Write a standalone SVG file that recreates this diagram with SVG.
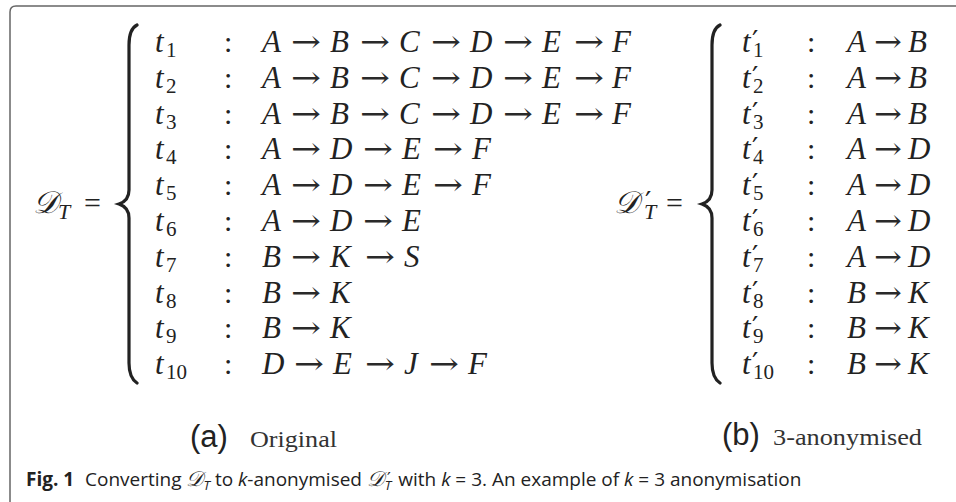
<svg xmlns="http://www.w3.org/2000/svg" width="956" height="502" viewBox="0 0 956 502">
<style>
.m{font-family:"Liberation Serif","Times New Roman",serif;font-style:italic;font-size:31px;fill:#222}
.r{font-family:"Liberation Serif","Times New Roman",serif;font-style:normal;font-size:30px;fill:#222}
.sub{font-family:"Liberation Serif","Times New Roman",serif;font-style:normal;font-size:21px}
.subi{font-family:"Liberation Serif","Times New Roman",serif;font-style:italic;font-size:22px}
.pr{font-family:"DejaVu Serif",serif;font-style:normal;font-size:28px}
.ar{font-family:"DejaVu Serif",serif;font-style:normal;font-size:30px;fill:#2a2a2a}
.br{fill:none;stroke:#222;stroke-width:3.2;stroke-linecap:round}
.lab{font-family:"Liberation Sans",Arial,sans-serif;font-size:31px;fill:#222}
.labs{font-family:"Liberation Serif","Times New Roman",serif;font-size:24px;fill:#333}
.cap{font-family:"Open Sans","Noto Sans",sans-serif;font-size:19px;fill:#222}
</style>
<defs>
<text id="ar" class="ar" textLength="30" lengthAdjust="spacingAndGlyphs">→</text>
<text id="ar2" class="ar" textLength="28" lengthAdjust="spacingAndGlyphs">→</text>
</defs>
<path d="M10,502 L10,12 Q10,6 16,6 L956,6" fill="none" stroke="#666" stroke-width="1.5"/>

<g id="DT">
<text class="m" x="33" y="213">𝒟<tspan class="subi" x="58" dy="6">T</tspan><tspan class="r" x="84" dy="-6">=</tspan></text>
<path class="br" d="M137,25 C131,28 129,35 129,45 L129,190 C129,198 125,202 119,204 C125,206 129,210 129,218 L129,363 C129,373 131,379 137,383"/>
</g>

<g id="left-rows">
<g id="t1"><text class="m" y="52"><tspan x="155">t</tspan><tspan class="sub" x="166" dy="5">1</tspan><tspan class="r" x="224" dy="-5">:</tspan><tspan x="262">A</tspan><tspan x="330">B</tspan><tspan x="399">C</tspan><tspan x="470">D</tspan><tspan x="542">E</tspan><tspan x="612">F</tspan></text>
<use href="#ar" x="291" y="52"/><use href="#ar" x="360" y="52"/><use href="#ar" x="431" y="52"/><use href="#ar" x="503" y="52"/><use href="#ar" x="574" y="52"/></g>
<g id="t2"><text class="m" y="88"><tspan x="155">t</tspan><tspan class="sub" x="166" dy="5">2</tspan><tspan class="r" x="224" dy="-5">:</tspan><tspan x="262">A</tspan><tspan x="330">B</tspan><tspan x="399">C</tspan><tspan x="470">D</tspan><tspan x="542">E</tspan><tspan x="612">F</tspan></text>
<use href="#ar" x="291" y="88"/><use href="#ar" x="360" y="88"/><use href="#ar" x="431" y="88"/><use href="#ar" x="503" y="88"/><use href="#ar" x="574" y="88"/></g>
<g id="t3"><text class="m" y="124"><tspan x="155">t</tspan><tspan class="sub" x="166" dy="5">3</tspan><tspan class="r" x="224" dy="-5">:</tspan><tspan x="262">A</tspan><tspan x="330">B</tspan><tspan x="399">C</tspan><tspan x="470">D</tspan><tspan x="542">E</tspan><tspan x="612">F</tspan></text>
<use href="#ar" x="291" y="124"/><use href="#ar" x="360" y="124"/><use href="#ar" x="431" y="124"/><use href="#ar" x="503" y="124"/><use href="#ar" x="574" y="124"/></g>
<g id="t4"><text class="m" y="159"><tspan x="155">t</tspan><tspan class="sub" x="166" dy="5">4</tspan><tspan class="r" x="224" dy="-5">:</tspan><tspan x="262">A</tspan><tspan x="330">D</tspan><tspan x="402">E</tspan><tspan x="472">F</tspan></text>
<use href="#ar" x="291" y="159"/><use href="#ar" x="363" y="159"/><use href="#ar" x="433" y="159"/></g>
<g id="t5"><text class="m" y="195"><tspan x="155">t</tspan><tspan class="sub" x="166" dy="5">5</tspan><tspan class="r" x="224" dy="-5">:</tspan><tspan x="262">A</tspan><tspan x="330">D</tspan><tspan x="402">E</tspan><tspan x="472">F</tspan></text>
<use href="#ar" x="291" y="195"/><use href="#ar" x="363" y="195"/><use href="#ar" x="433" y="195"/></g>
<g id="t6"><text class="m" y="231"><tspan x="155">t</tspan><tspan class="sub" x="166" dy="5">6</tspan><tspan class="r" x="224" dy="-5">:</tspan><tspan x="262">A</tspan><tspan x="330">D</tspan><tspan x="402">E</tspan></text>
<use href="#ar" x="291" y="231"/><use href="#ar" x="363" y="231"/></g>
<g id="t7"><text class="m" y="267"><tspan x="155">t</tspan><tspan class="sub" x="166" dy="5">7</tspan><tspan class="r" x="224" dy="-5">:</tspan><tspan x="262">B</tspan><tspan x="330">K</tspan><tspan x="404">S</tspan></text>
<use href="#ar" x="291" y="267"/><use href="#ar" x="365" y="267"/></g>
<g id="t8"><text class="m" y="303"><tspan x="155">t</tspan><tspan class="sub" x="166" dy="5">8</tspan><tspan class="r" x="224" dy="-5">:</tspan><tspan x="262">B</tspan><tspan x="330">K</tspan></text>
<use href="#ar" x="291" y="303"/></g>
<g id="t9"><text class="m" y="338"><tspan x="155">t</tspan><tspan class="sub" x="166" dy="5">9</tspan><tspan class="r" x="224" dy="-5">:</tspan><tspan x="262">B</tspan><tspan x="330">K</tspan></text>
<use href="#ar" x="291" y="338"/></g>
<g id="t10"><text class="m" y="374"><tspan x="155">t</tspan><tspan class="sub" x="166" dy="5">10</tspan><tspan class="r" x="224" dy="-5">:</tspan><tspan x="262">D</tspan><tspan x="333">E</tspan><tspan x="404">J</tspan><tspan x="468">F</tspan></text>
<use href="#ar" x="294" y="374"/><use href="#ar" x="365" y="374"/><use href="#ar" x="429" y="374"/></g>
</g>

<g id="DTp">
<text class="m" x="614" y="213">𝒟<tspan class="pr" x="645" dy="-1">′</tspan><tspan class="subi" x="644" dy="7">T</tspan><tspan class="r" x="666" dy="-6">=</tspan></text>
<path class="br" d="M720,25 C714,28 712,35 712,45 L712,190 C712,198 708,202 702,204 C708,206 712,210 712,218 L712,363 C712,373 714,379 720,383"/>
</g>

<g id="right-rows">
<g id="tp1"><text class="m" y="52"><tspan x="742">t</tspan><tspan class="pr" x="752" dy="-1">′</tspan><tspan class="sub" x="753" dy="6">1</tspan><tspan class="r" x="807" dy="-5">:</tspan><tspan x="847">A</tspan><tspan x="908">B</tspan></text><use href="#ar2" x="874" y="52"/></g>
<g id="tp2"><text class="m" y="88"><tspan x="742">t</tspan><tspan class="pr" x="752" dy="-1">′</tspan><tspan class="sub" x="753" dy="6">2</tspan><tspan class="r" x="807" dy="-5">:</tspan><tspan x="847">A</tspan><tspan x="908">B</tspan></text><use href="#ar2" x="874" y="88"/></g>
<g id="tp3"><text class="m" y="124"><tspan x="742">t</tspan><tspan class="pr" x="752" dy="-1">′</tspan><tspan class="sub" x="753" dy="6">3</tspan><tspan class="r" x="807" dy="-5">:</tspan><tspan x="847">A</tspan><tspan x="908">B</tspan></text><use href="#ar2" x="874" y="124"/></g>
<g id="tp4"><text class="m" y="159"><tspan x="742">t</tspan><tspan class="pr" x="752" dy="-1">′</tspan><tspan class="sub" x="753" dy="6">4</tspan><tspan class="r" x="807" dy="-5">:</tspan><tspan x="847">A</tspan><tspan x="908">D</tspan></text><use href="#ar2" x="874" y="159"/></g>
<g id="tp5"><text class="m" y="195"><tspan x="742">t</tspan><tspan class="pr" x="752" dy="-1">′</tspan><tspan class="sub" x="753" dy="6">5</tspan><tspan class="r" x="807" dy="-5">:</tspan><tspan x="847">A</tspan><tspan x="908">D</tspan></text><use href="#ar2" x="874" y="195"/></g>
<g id="tp6"><text class="m" y="231"><tspan x="742">t</tspan><tspan class="pr" x="752" dy="-1">′</tspan><tspan class="sub" x="753" dy="6">6</tspan><tspan class="r" x="807" dy="-5">:</tspan><tspan x="847">A</tspan><tspan x="908">D</tspan></text><use href="#ar2" x="874" y="231"/></g>
<g id="tp7"><text class="m" y="267"><tspan x="742">t</tspan><tspan class="pr" x="752" dy="-1">′</tspan><tspan class="sub" x="753" dy="6">7</tspan><tspan class="r" x="807" dy="-5">:</tspan><tspan x="847">A</tspan><tspan x="908">D</tspan></text><use href="#ar2" x="874" y="267"/></g>
<g id="tp8"><text class="m" y="303"><tspan x="742">t</tspan><tspan class="pr" x="752" dy="-1">′</tspan><tspan class="sub" x="753" dy="6">8</tspan><tspan class="r" x="807" dy="-5">:</tspan><tspan x="847">B</tspan><tspan x="908">K</tspan></text><use href="#ar2" x="874" y="303"/></g>
<g id="tp9"><text class="m" y="338"><tspan x="742">t</tspan><tspan class="pr" x="752" dy="-1">′</tspan><tspan class="sub" x="753" dy="6">9</tspan><tspan class="r" x="807" dy="-5">:</tspan><tspan x="847">B</tspan><tspan x="908">K</tspan></text><use href="#ar2" x="874" y="338"/></g>
<g id="tp10"><text class="m" y="374"><tspan x="742">t</tspan><tspan class="pr" x="752" dy="-1">′</tspan><tspan class="sub" x="753" dy="6">10</tspan><tspan class="r" x="807" dy="-5">:</tspan><tspan x="847">B</tspan><tspan x="908">K</tspan></text><use href="#ar2" x="874" y="374"/></g>
</g>

<g id="labels">
<text class="lab" x="190" y="447">(a)</text><text class="labs" x="250" y="447" textLength="87" lengthAdjust="spacingAndGlyphs">Original</text>
<text class="lab" x="722" y="445">(b)</text><text class="labs" x="773" y="445" textLength="149" lengthAdjust="spacingAndGlyphs">3-anonymised</text>
</g>

<g id="caption">
<text class="cap" y="486"><tspan x="26" font-weight="bold">Fig. 1</tspan><tspan x="85">Converting </tspan><tspan font-family="Liberation Serif" font-style="italic" font-size="21">𝒟</tspan><tspan font-style="italic" font-size="13" dy="4">T</tspan><tspan dy="-4"> to </tspan><tspan font-style="italic">k</tspan>-anonymised <tspan font-family="Liberation Serif" font-style="italic" font-size="21">𝒟</tspan><tspan font-family="DejaVu Serif" font-size="17" dy="-2" dx="3">′</tspan><tspan font-style="italic" font-size="13" dy="6" dx="-6">T</tspan><tspan dy="-4" dx="2"> with </tspan><tspan font-style="italic">k</tspan> = 3. An example of <tspan font-style="italic">k</tspan> = 3 anonymisation</text>
</g>
</svg>
